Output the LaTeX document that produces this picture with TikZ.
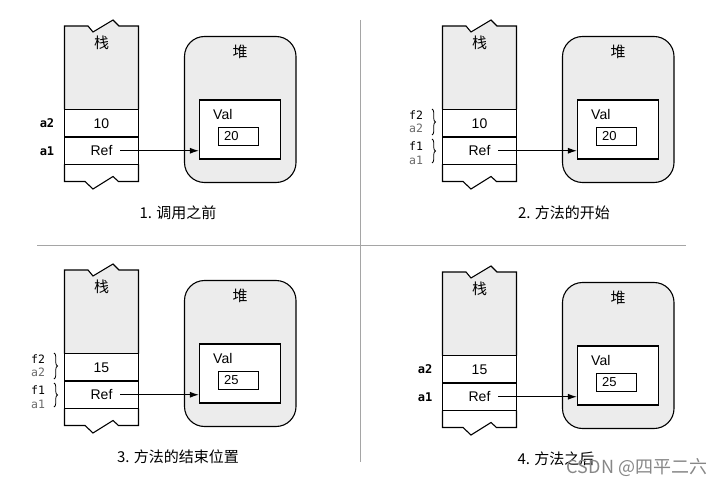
\documentclass[tikz,border=0pt]{standalone}
\usepackage{fontspec}
\usepackage{tikz}
\usetikzlibrary{arrows.meta,calc,positioning,decorations.pathreplacing}
\newfontfamily\cjk{Noto Sans CJK SC}
\newfontfamily\helv{Liberation Sans}
\newfontfamily\mono{DejaVu Sans Mono}
\definecolor{memgray}{RGB}{236,236,236}
\definecolor{rulegray}{RGB}{165,165,165}
\definecolor{lblgray}{RGB}{105,105,105}
\definecolor{markgray}{RGB}{135,135,135}

\begin{document}
\begin{tikzpicture}[x=1pt, y=-1pt,
      cell/.style={draw, fill=white, line width=1.1pt, minimum width=74pt, minimum height=27.5pt, inner sep=0pt, font=\helv\fontsize{14}{16}\selectfont},
      heapbox/.style={draw, fill=memgray, line width=1.1pt, rounded corners=20pt, minimum width=111.5pt, minimum height=146pt, inner sep=0pt},
      valbox/.style={draw, fill=white, line width=1.1pt, minimum width=81pt, minimum height=59pt, inner sep=0pt},
      numbox/.style={draw, fill=white, line width=1.1pt, minimum width=40pt, minimum height=18.5pt, inner sep=0pt},
      txt/.style={font=\helv\fontsize{14}{16}\selectfont, inner sep=0pt},
      zh/.style={font=\cjk\fontsize{15}{18}\selectfont, inner sep=0pt},
      var/.style={font=\mono\fontsize{11.5}{13}\selectfont, inner sep=0pt},
      brace/.style={decorate, decoration={brace, amplitude=3.5pt}, line width=0.8pt},
      ptr/.style={-{Latex[length=9pt,width=6pt]}, line width=1.1pt}
    ]
  \useasboundingbox (0,0) rectangle (727,486);

  % dividers between the four steps
  \draw[rulegray, line width=1pt] (360,20) -- (360,462);
  \draw[rulegray, line width=1pt] (37,245) -- (686,245);

  \foreach \id/\dx/\dy/\sv/\hv/\cx/\br/\capt in {
      1/0/0/10/20/178/0/{1. 调用之前},
      2/378/0/10/20/186/1/{2. 方法的开始},
      3/0/244/15/25/178/1/{3. 方法的结束位置},
      4/378/246/15/25/178/0/{4. 方法之后}} {
    \begin{scope}[shift={(\dx,\dy)}]
      % stack
      \draw[fill=memgray, line width=1.1pt] (64.5,109.5) -- (64.5,26) -- (88,26) -- (93,32) -- (113,20) -- (119,26) -- (138.5,26) -- (138.5,109.5);
      \draw[fill=white, line width=1.1pt] (64.5,164.5) -- (64.5,181.5) -- (85,181.5) -- (93,189) -- (113,176.5) -- (118.5,181.5) -- (138.5,181.5) -- (138.5,164.5);
      \node[cell] (a2cell\id) at (101.5,123.25) {\sv};
      \node[cell] (a1cell\id) at (101.5,150.75) {Ref};
      \node[zh] (stk\id) at (101.5,43) {栈};

      % heap
      \node[heapbox] (heap\id) at (240.25,109.5) {};
      \node[zh] (hp\id) at (240,52) {堆};
      \node[valbox] (val\id) at (240,129.5) {};
      \node[txt, anchor=west] (vt\id) at (213,114) {Val};
      \node[numbox] (num\id) at (238.5,136.5) {};
      \node[txt, anchor=west, font=\helv\fontsize{13}{15}\selectfont] (nt\id) at (224,136.5) {\hv};

      \draw[ptr] ([xshift=18.5pt]a1cell\id.center) -- (a1cell\id.center -| val\id.west);

      \node[zh] (cap\id) at (\cx,212.5) {\capt};

      % variable names
      \ifnum\br=1
        \node[var] (f2lbl\id) at (38,115) {f2};
        \node[var, text=lblgray] (a2lbl\id) at (38,128.5) {a2};
        \node[var] (f1lbl\id) at (38,146) {f1};
        \node[var, text=lblgray] (a1lbl\id) at (38,160) {a1};
        \draw[brace] (54,109) -- (54,135);
        \draw[brace] (54,139) -- (54,163);
      \else
        \node[var, font=\mono\bfseries\fontsize{12}{14}\selectfont] (a2lbl\id) at (47,123) {a2};
        \node[var, font=\mono\bfseries\fontsize{12}{14}\selectfont] (a1lbl\id) at (47,151) {a1};
      \fi
    \end{scope}
  }

  \node[font=\cjk\fontsize{18}{20}\selectfont, text=markgray, inner sep=0pt] (mark) at (637,468) {CSDN @四平二六};
\end{tikzpicture}
\end{document}
